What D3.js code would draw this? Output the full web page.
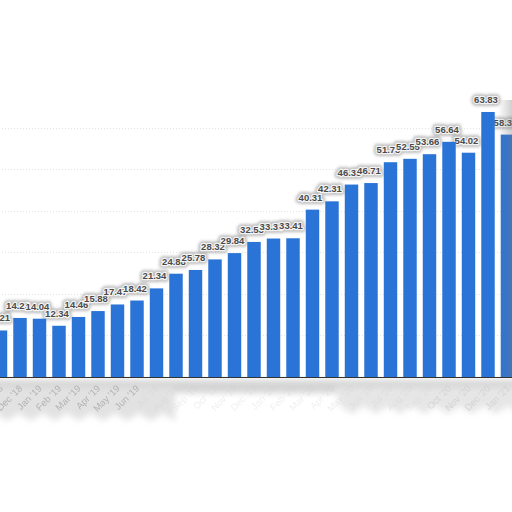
<!DOCTYPE html>
<html>
<head>
<meta charset="utf-8">
<script src="https://cdn.jsdelivr.net/npm/d3@7"></script>
<style>
html,body{margin:0;padding:0;background:#fff;overflow:hidden;}
svg{display:block;}
</style>
</head>
<body>
<svg id="chart" width="512" height="512"></svg>
<script>
const months = ["Nov '18","Dec '18","Jan '19","Feb '19","Mar '19","Apr '19","May '19","Jun '19","Jul '19","Aug '19","Sep '19","Oct '19","Nov '19","Dec '19","Jan '20","Feb '20","Mar '20","Apr '20","May '20","Jun '20","Jul '20","Aug '20","Sep '20","Oct '20","Nov '20","Dec '20","Jan '21"];
const values = [11.21,14.22,14.04,12.34,14.46,15.88,17.47,18.42,21.34,24.88,25.78,28.32,29.84,32.53,33.35,33.41,40.31,42.31,46.35,46.71,51.73,52.55,53.66,56.64,54.02,63.83,58.38];
const gridTicks = [10,20,30,40,50,60];

const svg = d3.select("#chart");
const W = 512;
const baseY = 377;
const pitch = 19.5;
const x0 = 0.5 - pitch/2;

const x = d3.scaleBand().domain(months).range([x0, x0 + pitch*months.length]).paddingInner(0.31).paddingOuter(0.155);
const y = d3.scaleLinear().domain([0,70]).range([baseY, baseY - 70*4.152]);

const defs = svg.append("defs");
const f1 = defs.append("filter").attr("id","blur1").attr("x","-50%").attr("y","-50%").attr("width","200%").attr("height","200%");
f1.append("feGaussianBlur").attr("stdDeviation",1.6);
const f2 = defs.append("filter").attr("id","blur2").attr("x","-20%").attr("y","-50%").attr("width","140%").attr("height","200%");
f2.append("feGaussianBlur").attr("stdDeviation",3);
const f3 = defs.append("filter").attr("id","blur05");
f3.append("feGaussianBlur").attr("stdDeviation",0.55);
const grad = defs.append("linearGradient").attr("id","rshade").attr("x1","0").attr("x2","1");
grad.append("stop").attr("offset","0").attr("stop-color","#777").attr("stop-opacity",0);
grad.append("stop").attr("offset","1").attr("stop-color","#777").attr("stop-opacity",0.35);

// shadow band below axis
const bottomShadow = svg.append("g").attr("filter","url(#blur2)");
bottomShadow.append("rect").attr("x",-10).attr("y",baseY+3).attr("width",W+20).attr("height",13).attr("fill","#d4d4d4");
function jagged(xa, xb, yTop, yBot, step, amp){
  let pts = [[xa,yTop]];
  pts.push([xb,yTop]);
  let k = 0;
  for (let xx = xb; xx >= xa; xx -= step){ pts.push([xx, yBot + (k%2 ? -amp : amp)]); k++; }
  return d3.line()(pts) + "Z";
}
bottomShadow.append("path").attr("d", jagged(-10, 175, baseY+10, baseY+40, 12, 4)).attr("fill","#e2e2e2");
bottomShadow.append("path").attr("d", jagged(335, 520, baseY+10, baseY+33, 12, 4)).attr("fill","#e6e6e6");

// x labels (faded)
svg.append("g").attr("filter","url(#blur05)").selectAll("text").data(months).join("text")
  .attr("transform", d => `translate(${x(d)+x.bandwidth()/2+3},${baseY+12}) rotate(-45)`)
  .attr("text-anchor","end")
  .attr("font-family","Liberation Sans, Arial, sans-serif")
  .attr("font-size",9.5)
  .attr("fill", (d,i) => i < 8 ? "#b3b3b3" : "#cccccc")
  .attr("opacity", (d,i) => i < 8 ? 1 : (i > 22 ? 0.7 : 0.3))
  .text(d => d);

// gridlines
svg.append("g").selectAll("line").data(gridTicks).join("line")
  .attr("x1",-10).attr("x2",W+10)
  .attr("y1",d=>Math.round(y(d))+0.5).attr("y2",d=>Math.round(y(d))+0.5)
  .attr("stroke","#e4e4e4").attr("stroke-dasharray","1,2").attr("stroke-width",1);

// label halos
const lab = svg.append("g");
lab.append("g").attr("filter","url(#blur1)").selectAll("text").data(values).join("text")
  .attr("x",(d,i)=>x(months[i])+x.bandwidth()/2-2)
  .attr("y",d=>y(d)-9)
  .attr("text-anchor","middle")
  .attr("font-family","Liberation Sans, Arial, sans-serif")
  .attr("font-weight","bold").attr("font-size",9.5)
  .attr("fill","#bbb").attr("stroke","#bbb").attr("stroke-width",6).attr("stroke-linejoin","round")
  .text(d=>d.toFixed(2));

// bars
svg.append("g").selectAll("rect").data(values).join("rect")
  .attr("x",(d,i)=>x(months[i]))
  .attr("width",x.bandwidth())
  .attr("y",d=>y(d))
  .attr("height",d=>baseY - y(d))
  .attr("fill","#2a74d7");

// labels
lab.append("g").selectAll("text").data(values).join("text")
  .attr("x",(d,i)=>x(months[i])+x.bandwidth()/2-2)
  .attr("y",d=>y(d)-9)
  .attr("text-anchor","middle")
  .attr("font-family","Liberation Sans, Arial, sans-serif")
  .attr("font-weight","bold").attr("font-size",9.5)
  .attr("fill","#4a4a4a").attr("stroke","#f4f4f4").attr("stroke-width",2.5).attr("paint-order","stroke").attr("stroke-linejoin","round")
  .text(d=>d.toFixed(2));

// baseline
svg.append("line").attr("x1",-10).attr("x2",W+10).attr("y1",baseY+0.5).attr("y2",baseY+0.5).attr("stroke","#333").attr("stroke-width",1.2);

// right edge shade
svg.append("rect").attr("x",498).attr("y",100).attr("width",14).attr("height",baseY-100).attr("fill","url(#rshade)");
</script>
</body>
</html>
